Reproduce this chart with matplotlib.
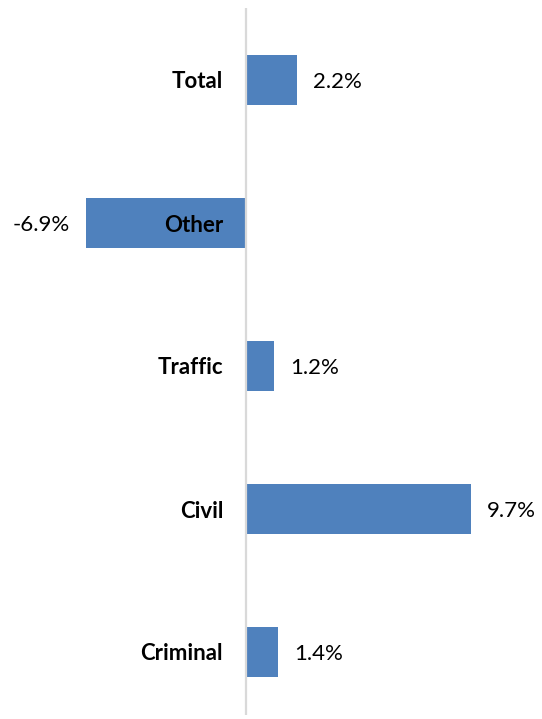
import matplotlib.pyplot as plt

categories = ['Criminal', 'Civil', 'Traffic', 'Other', 'Total']
changes = [1.4, 9.7, 1.2, -6.9, 2.2]
value_labels = ['1.4%', '9.7%', '1.2%', '-6.9%', '2.2%']

W, H = 542, 719
fig = plt.figure(figsize=(W / 100, H / 100), dpi=100)

# axes in pixel terms: zero line at x=246, 23.2 px per percent
ax_l, ax_r = 20, 530
px_per = 23.2
x0 = 246
ax_top, ax_bot = 8, 715
spacing = 143.0
ax = fig.add_axes([ax_l / W, 1 - ax_bot / H, (ax_r - ax_l) / W, (ax_bot - ax_top) / H])
ax.set_xlim(-(x0 - ax_l) / px_per, (ax_r - x0) / px_per)
ax.set_ylim(-(ax_bot - 652) / spacing, 4 + (80 - ax_top) / spacing)

ypos = list(range(len(categories)))
ax.barh(ypos, changes, height=50 / spacing, color='#4F81BD', zorder=2)
ax.axvline(0, color='#D9D9D9', lw=1.6, zorder=3)

for sp in ax.spines.values():
    sp.set_visible(False)
ax.set_xticks([])
ax.set_yticks([])

fam = ['Lato', 'DejaVu Sans']
fs = 16
off = 16 / px_per
dy = -2 / spacing
for y, v, lab, cat in zip(ypos, changes, value_labels, categories):
    ax.text(-23 / px_per, y + dy, cat, ha='right', va='center', fontsize=fs,
            fontweight='bold', family=fam, zorder=4)
    if v >= 0:
        ax.text(v + off, y + dy, lab, ha='left', va='center', fontsize=fs, family=fam, zorder=4)
    else:
        ax.text(v - off, y + dy, lab, ha='right', va='center', fontsize=fs, family=fam, zorder=4)

fig.savefig('out.png', dpi=100)
